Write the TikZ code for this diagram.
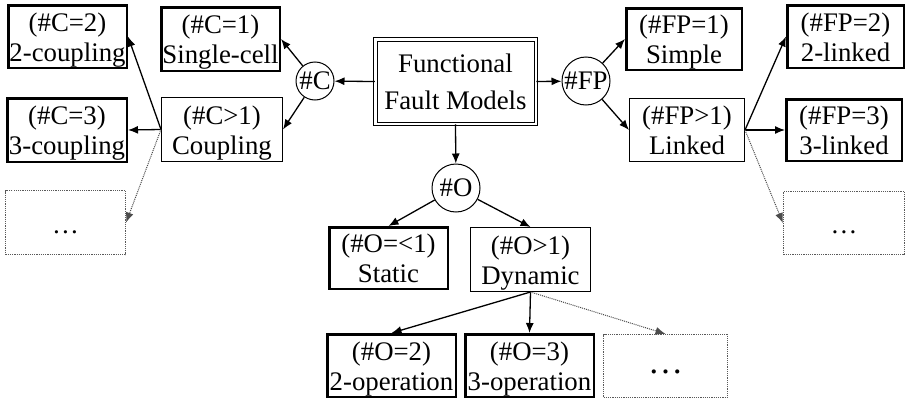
\documentclass[tikz,border=0pt]{standalone}
\usepackage{fontspec}
\setmainfont{Liberation Serif}
\usetikzlibrary{arrows.meta}
\newcommand{\twol}[2]{\rule{0pt}{25pt}#1\\#2\rule[-6pt]{0pt}{6pt}}
\begin{document}
\begin{tikzpicture}[x=1pt,y=-1pt,
  base/.style={rectangle, inner sep=0pt, align=center, font=\fontsize{26.8}{30}\selectfont},
  sz/.style 2 args={minimum width=#1, minimum height=#2},
  thickbox/.style={base, draw, line width=2.5pt},
  thinbox/.style={base, draw, line width=1pt},
  dotbox/.style={base, draw=black!65, densely dotted, line width=1.2pt},
  circ/.style={circle, draw, line width=1pt, inner sep=0pt, font=\fontsize{26.8}{30}\selectfont},
  arr/.style={-{Latex[length=10pt,width=8pt]}, line width=1.3pt},
  darr/.style={-{Latex[length=10pt,width=8pt]}, line width=1pt, densely dotted, black!70}
]
\path[use as bounding box] (0,0) rectangle (908,399);

% center
\node[base, draw, double, double distance=2.5pt, line width=1pt, sz={160.5pt}{84.5pt},
      font=\fontsize{26.8}{37}\selectfont] (ffm) at (455.5,81.5) {Functional\\Fault Models};
\node[circ, minimum size=38pt] (C) at (315,81) {\#C};
\node[circ, minimum size=48pt] (FP) at (586,81) {\#FP};
\node[circ, minimum size=48pt] (O) at (456,188) {\#O};

% coupling side
\node[thickbox, sz={118.5pt}{62.5pt}] (c2) at (67.5,36.5) {\twol{(\#C=2)}{2-coupling}};
\node[thickbox, sz={118.5pt}{63.5pt}] (c1) at (220.5,39) {\twol{(\#C=1)}{Single-cell}};
\node[thickbox, sz={119.5pt}{63.5pt}] (c3) at (67,130) {\twol{(\#C=3)}{3-coupling}};
\node[thinbox, sz={121pt}{64pt}] (cp) at (222,129.5) {\twol{(\#C>1)}{Coupling}};
\node[dotbox, sz={120pt}{64pt}] (cdots) at (65.5,222.5) {\rule{0pt}{22pt}…};

% fault primitive side
\node[thickbox, sz={115.5pt}{61.5pt}] (simple) at (684,39) {\twol{(\#FP=1)}{Simple}};
\node[thickbox, sz={116.5pt}{62.5pt}] (l2) at (845.5,36.5) {\twol{(\#FP=2)}{2-linked}};
\node[thinbox, sz={115pt}{63pt}] (linked) at (687,130) {\twol{(\#FP>1)}{Linked}};
\node[thickbox, sz={115.5pt}{61.5pt}] (l3) at (844,130) {\twol{(\#FP=3)}{3-linked}};
\node[dotbox, sz={121pt}{63pt}] (ldots) at (844,223) {\rule{0pt}{22pt}…};

% operation side
\node[thickbox, sz={118.5pt}{61.5pt}] (static) at (388.5,258) {\twol{(\#O=<1)}{Static}};
\node[thinbox, sz={120pt}{64pt}] (dynamic) at (530.5,259.5) {\twol{(\#O>1)}{Dynamic}};
\node[thickbox, sz={128.5pt}{62.5pt}] (op2) at (391.5,365.5) {\twol{(\#O=2)}{2-operation}};
\node[thickbox, sz={128.5pt}{62.5pt}] (op3) at (529.5,365.5) {\twol{(\#O=3)}{3-operation}};
\node[dotbox, sz={124pt}{63pt}, font=\fontsize{35}{40}\selectfont] (odots) at (665.5,366) {\rule{0pt}{16pt}…};

% connectors
\draw[arr] (ffm.west) -- (C);
\draw[arr] (ffm.east) -- (FP);
\draw[arr] (ffm.south) -- (O);
\draw[arr] (C) -- (c1.east);
\draw[arr] (C) -- (cp.east);
\draw[arr] (cp.west) -- (c3.east);
\draw[arr] (cp.west) -- (c2.east);
\draw[darr] (cp.west) -- (cdots.east);
\draw[arr] (FP) -- (simple.west);
\draw[arr] (FP) -- (linked.west);
\draw[arr] (linked.east) -- (l2.west);
\draw[arr] (linked.east) -- (l3.west);
\draw[darr] (linked.east) -- (ldots.west);
\draw[arr] (O) -- (static.north);
\draw[arr] (O) -- (dynamic.north);
\draw[arr] (dynamic.south) -- (op2.north);
\draw[arr] (dynamic.south) -- (op3.north);
\draw[darr] (dynamic.south) -- (odots.north);
\end{tikzpicture}
\end{document}
